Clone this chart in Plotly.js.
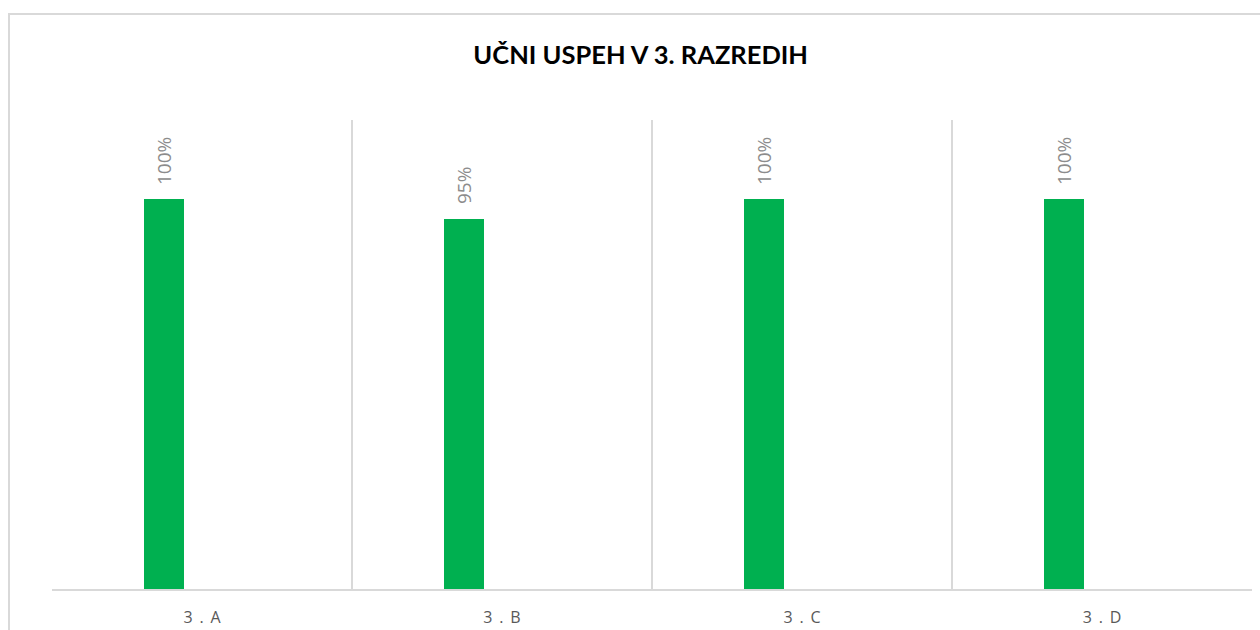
<!DOCTYPE html>
<html>
<head>
<meta charset="utf-8">
<script src="https://cdn.plot.ly/plotly-3.0.1.min.js"></script>
<style>
  html, body { margin: 0; padding: 0; background: #fff; overflow: hidden; }
  #frame { position: absolute; left: 8px; top: 13px; width: 1270px; height: 640px; border: 2px solid #d9d9d9; box-sizing: border-box; pointer-events: none; }
  #chart { position: absolute; left: 0; top: 0; width: 1260px; height: 630px; }
</style>
</head>
<body>
<div id="chart"></div>
<div id="frame"></div>
<script>
const categories = ['3.A', '3.B', '3.C', '3.D'];
const tickLabels = ['3\u2009 .\u2009 A', '3\u2009 .\u2009 B', '3\u2009 .\u2009 C', '3\u2009 .\u2009 D'];
const successRate = [1.00, 0.95, 1.00, 1.00];
const labels = ['100%', '95%', '100%', '100%'];

const barWidth = 0.1333;
const barOffset = -0.1933;
const catPx = 300;

const trace = {
  type: 'bar',
  x: categories,
  y: successRate,
  width: categories.map(() => barWidth),
  offset: categories.map(() => barOffset),
  marker: { color: '#00b050' },
  hoverinfo: 'x+y',
  showlegend: false
};

const annotations = categories.map((c, i) => ({
  x: c, y: successRate[i], xref: 'x', yref: 'y',
  text: labels[i], showarrow: false, textangle: -90,
  xanchor: 'center', yanchor: 'bottom',
  xshift: (barOffset + barWidth / 2) * catPx,
  yshift: 12,
  font: { family: '"Open Sans", "Liberation Sans", sans-serif', size: 19, color: '#8c8c8c' }
}));

const layout = {
  width: 1260, height: 630,
  margin: { l: 52, r: 8, t: 120, b: 41 },
  paper_bgcolor: '#ffffff', plot_bgcolor: '#ffffff',
  title: {
    text: '<b>UČNI USPEH V 3. RAZREDIH</b>',
    x: 0.5085, xanchor: 'center', y: 1 - 55 / 630, yanchor: 'middle', yref: 'container',
    font: { family: 'Lato, "Liberation Sans", sans-serif', size: 25.5, color: '#000000' }
  },
  xaxis: {
    type: 'category', range: [-0.5, 3.5],
    tickvals: categories, ticktext: tickLabels,
    tickson: 'boundaries', showgrid: true, gridcolor: '#d9d9d9', gridwidth: 1.5,
    showline: true, linecolor: '#d9d9d9', linewidth: 1.5,
    ticks: '', ticklabelstandoff: 13,
    tickfont: { family: '"Open Sans", "Liberation Sans", sans-serif', size: 16, color: '#595959' },
    zeroline: false, fixedrange: true
  },
  yaxis: {
    range: [0, 1.2026], showgrid: false, showticklabels: false, zeroline: false,
    showline: false, ticks: '', fixedrange: true
  },
  annotations: annotations,
  bargap: 0
};

Plotly.newPlot('chart', [trace], layout, { displayModeBar: false, staticPlot: true });
</script>
</body>
</html>
